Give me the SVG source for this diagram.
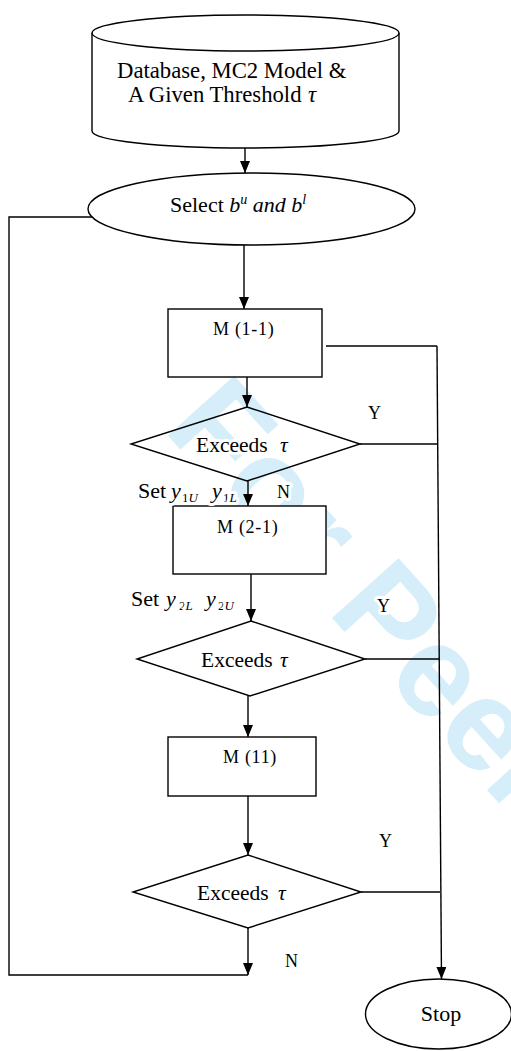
<svg xmlns="http://www.w3.org/2000/svg" width="511" height="1051" viewBox="0 0 511 1051">
<style>
text{font-family:"Liberation Serif","Times New Roman",serif;fill:#000}
.t22{font-size:22px}
.db{font-size:22.7px}
.ex{font-size:21.5px}
.m{font-size:18px;letter-spacing:0.7px}
.yl{font-size:18px}
.it{font-style:italic}
.sub{font-size:13px}
.halo{paint-order:stroke;stroke:#fff;stroke-width:6px;stroke-linejoin:round}
.shape{fill:#fff;stroke:#000;stroke-width:1.4}
.dia{fill:none;stroke:#000;stroke-width:1.4}
.ln{fill:none;stroke:#000;stroke-width:1.4}
.wm{font-family:"Liberation Sans",Arial,sans-serif;font-weight:bold;font-size:130px;fill:#d5eefa}
</style>
<defs>
<marker id="ah" markerUnits="userSpaceOnUse" markerWidth="12" markerHeight="10" refX="12" refY="5" orient="auto">
<path d="M0,0 L12,5 L0,10 z" fill="#000"/>
</marker>
</defs>
<rect width="511" height="1051" fill="#fff"/>
<text class="wm" transform="translate(162,429) rotate(48)">For Peer Review</text>

<g id="db">
<path class="shape" d="M92,33 L92,131 A153.5,17 0 0 0 399,131 L399,33"/>
<ellipse class="shape" cx="245.5" cy="33" rx="153.5" ry="18"/>
<text class="db" x="117" y="78">Database, MC2 Model &amp;</text>
<text class="db" x="128" y="102">A Given Threshold <tspan class="it" x="308">τ</tspan></text>
</g>

<g id="select">
<ellipse class="shape" cx="251.5" cy="209" rx="163.5" ry="36"/>
<text class="t22" x="170" y="212">Select <tspan class="it">b</tspan><tspan class="it" font-size="14" dy="-8">u</tspan><tspan class="it" dy="8"> and b</tspan><tspan class="it" font-size="14" dy="-8">l</tspan></text>
</g>

<g id="m11">
<rect class="shape" x="168" y="309" width="154" height="68"/>
<text class="m" x="213" y="335">M (1-1)</text>
</g>

<g id="d1">
<polygon class="dia" points="247,407 360,444 247,481 131,444"/>
<text class="ex halo" x="196" y="452">Exceeds<tspan class="it" x="280">τ</tspan></text>
</g>

<g id="m21">
<rect class="shape" x="173" y="506" width="153" height="68"/>
<text class="m" x="217" y="533">M (2-1)</text>
</g>

<g id="d2">
<polygon class="dia" points="251,621 365,659 250,696 137,659"/>
<text class="ex halo" x="201" y="667">Exceeds<tspan class="it" x="280">τ</tspan></text>
</g>

<g id="m_11">
<rect class="shape" x="168" y="737" width="148" height="59"/>
<text class="m" x="223" y="763">M (11)</text>
</g>

<g id="d3">
<polygon class="dia" points="248,855 361,892 248,928 133,892"/>
<text class="ex halo" x="197" y="900">Exceeds<tspan class="it" x="278">τ</tspan></text>
</g>

<g id="stop">
<ellipse class="shape" cx="438.5" cy="1014" rx="73" ry="35"/>
<text class="t22" x="441" y="1021" text-anchor="middle">Stop</text>
</g>

<g id="connectors">
<text class="yl halo" x="368" y="419">Y</text>
<text class="yl halo" x="377" y="612">Y</text>
<text class="yl halo" x="379" y="847">Y</text>
<text class="yl halo" x="277" y="498">N</text>
<text class="yl halo" x="285" y="967">N</text>
<text class="t22 halo" x="138" y="498">Set <tspan class="it" x="171">y</tspan><tspan class="sub" x="182" y="502">1</tspan><tspan class="sub it">U</tspan><tspan class="it" x="212" y="498">y</tspan><tspan class="sub" x="223" y="502">1</tspan><tspan class="sub it">L</tspan></text>
<text class="t22 halo" x="131" y="606">Set <tspan class="it" x="166">y</tspan><tspan class="sub" x="179" y="610">2</tspan><tspan class="sub it">L</tspan><tspan class="it" x="206" y="606">y</tspan><tspan class="sub" x="218" y="610">2</tspan><tspan class="sub it">U</tspan></text>

<line class="ln" x1="245" y1="148" x2="245" y2="173" marker-end="url(#ah)"/>
<line class="ln" x1="244" y1="245" x2="244" y2="309" marker-end="url(#ah)"/>
<line class="ln" x1="247" y1="377" x2="247" y2="407" marker-end="url(#ah)"/>
<line class="ln" x1="248" y1="481" x2="248" y2="506" marker-end="url(#ah)"/>
<line class="ln" x1="251" y1="574" x2="251" y2="621" marker-end="url(#ah)"/>
<line class="ln" x1="248" y1="696" x2="248" y2="737" marker-end="url(#ah)"/>
<line class="ln" x1="248" y1="796" x2="248" y2="855" marker-end="url(#ah)"/>
<line class="ln" x1="248" y1="928" x2="248" y2="975" marker-end="url(#ah)"/>
<polyline class="ln" points="248,975 9,975 9,217 92,217"/>
<line class="ln" x1="326" y1="346" x2="437" y2="346"/>
<line class="ln" x1="437" y1="346" x2="441.5" y2="979" marker-end="url(#ah)"/>
<line class="ln" x1="360" y1="444" x2="437.6" y2="444"/>
<line class="ln" x1="365" y1="659" x2="439" y2="659"/>
<line class="ln" x1="361" y1="892" x2="440" y2="892"/>
</g>
</svg>
